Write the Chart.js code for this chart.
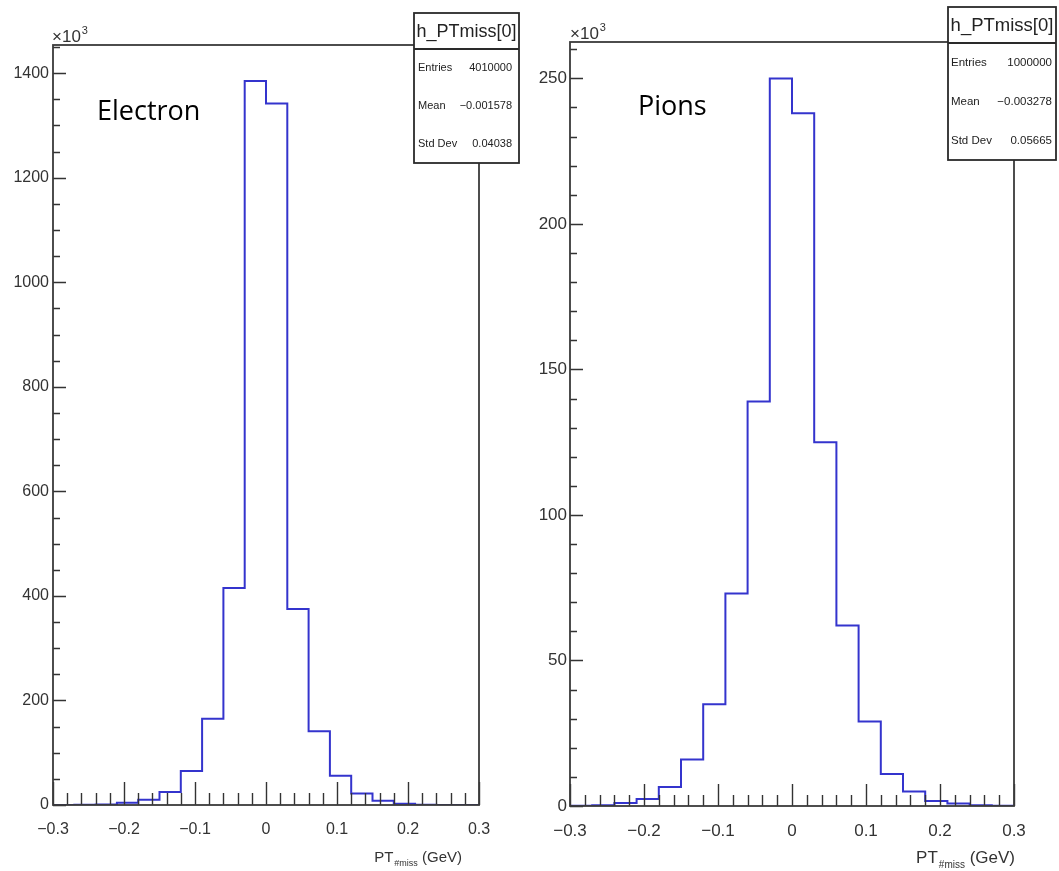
<!DOCTYPE html>
<html><head><meta charset="utf-8">
<script src="https://cdn.jsdelivr.net/npm/chart.js@4.4.1/dist/chart.umd.min.js"></script>
<style>
html,body{margin:0;padding:0;background:#fff;width:1059px;height:871px;overflow:hidden}
canvas{position:absolute;top:0}
#c1{left:0}
#c2{left:530px}
</style></head><body>
<canvas id="c1" width="530" height="871"></canvas>
<canvas id="c2" width="529" height="871"></canvas>
<script>
// ---- data (counts in units of 10^3) ----
const binLowEdges = [-0.3,-0.27,-0.24,-0.21,-0.18,-0.15,-0.12,-0.09,-0.06,-0.03,0,0.03,0.06,0.09,0.12,0.15,0.18,0.21,0.24,0.27];
const binUpperEdge = 0.3;
const electronCounts = [0.05,0.3,1,4.4,10,25,65,165,415,1385,1342,375,141,56,22,8,2.5,0.6,0.2,0.05];
const pionCounts = [0.1,0.3,1.0,2.4,6.5,16,35,73,139,250,238,125,62,29,11,5,1.7,0.9,0.3,0.1];
const xTickValues = [-0.3,-0.2,-0.1,0,0.1,0.2,0.3];
const electronYTicks = [0,200,400,600,800,1000,1200,1400];
const pionYTicks = [0,50,100,150,200,250];
const electronStats = [["Entries","4010000"],["Mean","\u22120.001578"],["Std Dev","0.04038"]];
const pionStats = [["Entries","1000000"],["Mean","\u22120.003278"],["Std Dev","0.05665"]];
const histTitle = "h_PTmiss[0]";

function histPoints(counts){
  const pts = binLowEdges.map((x,i)=>({x:x,y:counts[i]}));
  pts.push({x:binUpperEdge,y:counts[counts.length-1]});
  return pts;
}
function fmtX(v){
  if (Math.abs(v)<1e-9) return '0';
  return (v<0?'\u2212':'') + Math.abs(v).toFixed(1);
}

const rootPlugin = {
  id:'rootDecor',
  afterDraw(chart){
    const c = chart.options.plugins.rootDecor;
    const ctx = chart.ctx, a = chart.chartArea;
    const xs = chart.scales.x, ys = chart.scales.y;
    ctx.save();
    // ticks
    ctx.strokeStyle = '#333'; ctx.lineWidth = 1.4;
    ctx.beginPath();
    for (let k=0;k<=30;k++){
      const v = -0.3 + k*0.02;
      const px = Math.round(xs.getPixelForValue(v))+0.5;
      const len = (k%5===0)? c.xMajor : c.xMinor;
      ctx.moveTo(px,a.bottom); ctx.lineTo(px,a.bottom-len);
    }
    const minorStep = c.yStep / c.yDiv;
    for (let k=0; k*minorStep <= c.yMax; k++){
      const v = k*minorStep;
      const py = Math.round(ys.getPixelForValue(v))+0.5;
      const len = (k%c.yDiv===0)? c.yMajorLen : c.yMinorLen;
      ctx.moveTo(a.left,py); ctx.lineTo(a.left+len,py);
    }
    ctx.stroke();
    // frame
    ctx.strokeStyle = '#3a3a3a'; ctx.lineWidth = 1.8;
    ctx.strokeRect(a.left, a.top, a.right-a.left, a.bottom-a.top);
    // x10^3
    ctx.fillStyle = '#333'; ctx.textBaseline='alphabetic'; ctx.textAlign='left';
    ctx.font = c.expFont + 'px "Liberation Sans", Arial, sans-serif';
    ctx.fillText('\u00d710', c.expX, c.expY);
    const w10 = ctx.measureText('\u00d710').width;
    ctx.font = Math.round(c.expFont*0.62) + 'px "Liberation Sans", Arial, sans-serif';
    ctx.fillText('3', c.expX + w10 + 1, c.expY - c.expFont*0.5);
    // x axis title PT_{#miss} (GeV)
    const f = c.titleFont;
    const bigF = f + 'px "Liberation Sans", Arial, sans-serif';
    const smF = Math.round(f*0.6) + 'px "Liberation Sans", Arial, sans-serif';
    ctx.font = bigF; const wPT = ctx.measureText('PT').width; const wG = ctx.measureText(' (GeV)').width;
    ctx.font = smF; const wS = ctx.measureText('#miss').width;
    let tx = c.titleRight - (wPT + wS + 1 + wG);
    ctx.font = bigF; ctx.fillText('PT', tx, c.titleY);
    ctx.font = smF; ctx.fillText('#miss', tx + wPT + 1, c.titleY + f*0.28);
    ctx.font = bigF; ctx.fillText(' (GeV)', tx + wPT + 1 + wS, c.titleY);
    // annotation text
    ctx.fillStyle = '#000';
    ctx.font = c.noteFont + 'px "Open Sans", sans-serif';
    ctx.fillText(c.note, c.noteX, c.noteY);
    // stats box
    const b = c.box;
    ctx.fillStyle = '#fff';
    ctx.fillRect(b.x, b.y, b.w, b.h);
    ctx.strokeStyle = '#2a2a2a'; ctx.lineWidth = 1.8;
    ctx.strokeRect(b.x, b.y, b.w, b.h);
    ctx.beginPath(); ctx.moveTo(b.x, b.sep); ctx.lineTo(b.x+b.w, b.sep); ctx.stroke();
    ctx.fillStyle = '#222';
    ctx.textAlign = 'center'; ctx.textBaseline = 'middle';
    ctx.font = b.titleFont + 'px "Liberation Sans", Arial, sans-serif';
    ctx.fillText(histTitle, b.x + b.w/2, (b.y + b.sep)/2 + 1);
    ctx.font = b.rowFont + 'px "Liberation Sans", Arial, sans-serif';
    const rowH = (b.y + b.h - b.sep)/3;
    c.stats.forEach((r,i)=>{
      const yy = b.sep + rowH*(i+0.5);
      ctx.textAlign='left'; ctx.fillText(r[0], b.labelX, yy);
      ctx.textAlign='right'; ctx.fillText(r[1], b.valueRight, yy);
    });
    ctx.restore();
  }
};

function makeChart(id, counts, yTicks, cfg){
  return new Chart(document.getElementById(id), {
    type:'line',
    data:{datasets:[{data:histPoints(counts), stepped:'before', borderColor:'rgb(52,52,205)', borderWidth:2, pointRadius:0, fill:false, tension:0}]},
    options:{
      responsive:false, animation:false, events:[],
      layout:{padding:{top:cfg.padTop,right:cfg.padRight,left:0,bottom:0}},
      plugins:{legend:{display:false}, tooltip:{enabled:false}, rootDecor:cfg},
      scales:{
        x:{type:'linear', min:-0.3, max:0.3,
           afterFit(s){ s.height = cfg.xHeight; },
           afterBuildTicks(s){ s.ticks = xTickValues.map(v=>({value:v})); },
           grid:{display:false, drawTicks:false}, border:{display:false},
           ticks:{color:'#333', padding:cfg.xPad, maxRotation:0, autoSkip:false,
                  font:{family:'"Liberation Sans", Arial, sans-serif', size:cfg.tickFont},
                  callback:(v)=>fmtX(v)}},
        y:{type:'linear', min:0, max:cfg.yMax,
           afterFit(s){ s.width = cfg.yWidth; },
           afterBuildTicks(s){ s.ticks = yTicks.map(v=>({value:v})); },
           grid:{display:false, drawTicks:false}, border:{display:false},
           ticks:{color:'#333', padding:cfg.yPad, autoSkip:false,
                  font:{family:'"Liberation Sans", Arial, sans-serif', size:cfg.tickFont},
                  callback:(v)=>String(v)}}
      }
    },
    plugins:[rootPlugin]
  });
}

makeChart('c1', electronCounts, electronYTicks, {
  padTop:45, padRight:51, xHeight:66, yWidth:53, yMax:1454, yStep:200, yDiv:4,
  xPad:15, yPad:4, tickFont:16,
  xMajor:23, xMinor:12, yMajorLen:13, yMinorLen:7,
  expFont:17, expX:52, expY:42,
  titleFont:15, titleRight:462, titleY:862,
  note:'Electron', noteFont:27, noteX:97, noteY:120,
  stats:electronStats,
  box:{x:414, y:13, w:105, h:150, sep:49, titleFont:18, rowFont:11, labelX:418, valueRight:512}
});
makeChart('c2', pionCounts, pionYTicks, {
  padTop:42, padRight:45, xHeight:65, yWidth:40, yMax:262.5, yStep:50, yDiv:5,
  xPad:15, yPad:3, tickFont:17,
  xMajor:22, xMinor:11, yMajorLen:13, yMinorLen:7,
  expFont:17, expX:40, expY:39,
  titleFont:17, titleRight:485, titleY:863,
  note:'Pions', noteFont:27, noteX:108, noteY:115,
  stats:pionStats,
  box:{x:418, y:7, w:108, h:153, sep:43, titleFont:18.5, rowFont:11.5, labelX:421, valueRight:522}
});
</script>
</body></html>
